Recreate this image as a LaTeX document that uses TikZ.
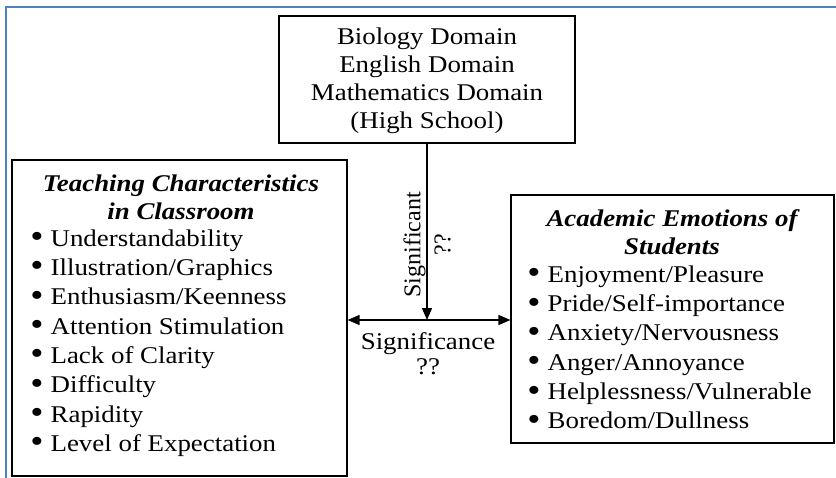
\documentclass[tikz,border=0pt]{standalone}
\usepackage{fontspec}
\setmainfont{Liberation Serif}[FakeStretch=1.12]
\newfontfamily\rotserif{Liberation Serif}
\usetikzlibrary{arrows.meta}
\definecolor{frameblue}{RGB}{79,129,189}
\newcommand{\bul}{\raisebox{-0.06em}{\scalebox{1.4}{\textbullet}}\hspace{0.3em}}
\begin{document}
\begin{tikzpicture}[x=0.75pt,y=-0.75pt,
  >={Triangle[length=9pt,width=7.5pt]},
  box/.style={draw=black,line width=0.9pt,rectangle,inner sep=0pt},
  hd/.style={inner sep=0pt,align=center,font=\fontsize{18}{21}\selectfont\bfseries\itshape},
  lst/.style={inner sep=0pt,align=left,anchor=west,font=\fontsize{18}{22}\selectfont},
  ctr/.style={inner sep=0pt,align=center,font=\fontsize{18}{21}\selectfont},
  arr/.style={line width=1pt,draw=black}]
\useasboundingbox (0,0) rectangle (836,478);
% outer frame
\coordinate (fbl) at (5.5,478);
\coordinate (ftl) at (5.5,7.5);
\coordinate (ftr) at (836,7.5);
\draw[frameblue,line width=1.5pt] (fbl) -- (ftl) -- (ftr);
% boxes
\node[box,minimum width=222pt,minimum height=95.25pt] (top) at (427,79.5) {};
\node[box,minimum width=251.25pt,minimum height=237pt] (left) at (179.5,318) {};
\node[box,minimum width=242.25pt,minimum height=186pt] (right) at (672.5,319) {};
% texts
\node[ctr] (toptxt) at (427,81) {Biology Domain\\English Domain\\Mathematics Domain\\(High School)};
\node[hd] (lefthd) at (181,197) {Teaching Characteristics\\in Classroom};
\node[lst] (leftlst) at (30,343) {\bul Understandability\\
\bul Illustration/Graphics\\
\bul Enthusiasm/Keenness\\
\bul Attention Stimulation\\
\bul Lack of Clarity\\
\bul Difficulty\\
\bul Rapidity\\
\bul Level of Expectation};
\node[hd] (righthd) at (672,232) {Academic Emotions of\\Students};
\node[lst] (rightlst) at (527,348) {\bul Enjoyment/Pleasure\\
\bul Pride/Self-importance\\
\bul Anxiety/Nervousness\\
\bul Anger/Annoyance\\
\bul Helplessness/Vulnerable\\
\bul Boredom/Dullness};
% arrows
\coordinate (J) at (427,320);
\draw[arr,->] (top.south) -- (J);
\draw[arr,<->] (left.east |- J) -- (right.west |- J);
% labels
\node[inner sep=0pt,align=center,rotate=90,font=\rotserif\fontsize{18}{22.5}\selectfont] (sigv) at (427,245) {Significant\\??};
\node[inner sep=0pt,align=center,font=\fontsize{18}{19}\selectfont] (sigh) at (428,354) {Significance\\??};
\end{tikzpicture}
\end{document}
